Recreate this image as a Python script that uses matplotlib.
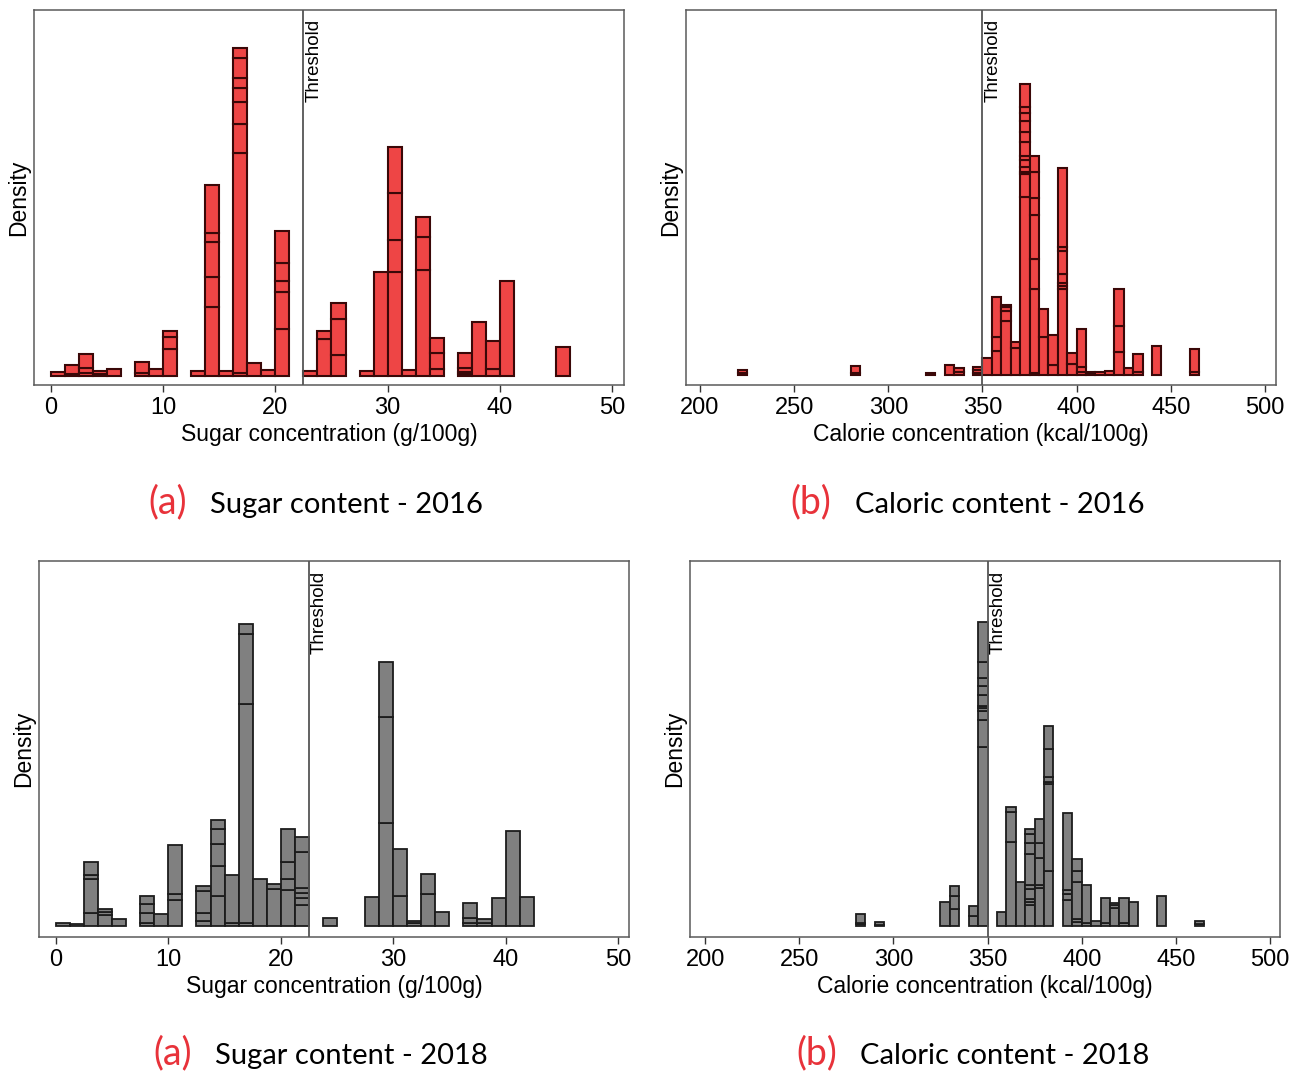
import matplotlib
matplotlib.use("Agg")
import matplotlib.pyplot as plt
from matplotlib.transforms import offset_copy

# ---------------- data ----------------
THRESH_SUGAR = 22.5
THRESH_CAL = 350
SUGAR_BIN = 1.25
CAL_BIN = 5

# Sugar 2016: bin left edges and cumulative stacked segment tops (relative density)
sugar16_left = [0, 1.25, 2.5, 3.75, 5.0, 7.5, 8.75, 10.0, 12.5, 13.75, 15.0, 16.25,
                17.5, 18.75, 20.0, 22.5, 23.75, 25.0, 27.5, 28.75, 30.0, 31.25,
                32.5, 33.75, 36.25, 37.5, 38.75, 40.0, 45.0]
sugar16_stacks = [[3.5], [1.5, 10.7], [2.3, 7.3, 21.7], [2, 4.3], [7],
                  [2.3, 13.3], [6.7], [26.3, 39, 44.7],
                  [4.7], [68.3, 99, 133.7, 143, 191], [4.3],
                  [2.7, 222.3, 252, 274, 287.7, 297.3, 317.3, 328],
                  [12.3], [5.7], [47, 84, 95, 112.3, 145],
                  [4.7], [36.3, 44.7], [21, 57, 72.7],
                  [5], [104], [104, 135.7, 182.3, 228.3], [5.7],
                  [105.3, 139, 158.3], [7, 22.3, 37.3],
                  [2, 4, 8, 22.7], [54], [6.7, 35], [95], [29]]

# Calories 2016
cal16_left = [220, 280, 320, 330, 335, 345, 350, 355, 360, 365, 370, 375, 380, 385,
              390, 395, 400, 405, 410, 415, 420, 425, 430, 440, 460]
cal16_stacks = [[2, 4.7], [2, 9], [1.5], [9.7], [3, 6.3], [2, 4.7, 8],
                [17], [23.3, 38, 77.3], [54, 63.3, 67.3, 69.7], [26.7, 32.3],
                [178, 200.7, 203, 208, 214.7, 218.7, 232.7, 242.7, 254, 261.3, 268, 290.7],
                [1.3, 85.7, 115.3, 159.7, 176.3, 202.7, 218.7],
                [38, 65.3], [9.7, 39.7],
                [85.3, 88.7, 92, 100.7, 124, 128, 206.7],
                [10.3, 21.7], [2.3, 8, 46], [1.5, 3], [3], [3.7],
                [22.7, 48.7, 85.7], [6.3], [2.7, 20.3], [29], [2.5, 25.3]]

# Sugar 2018
sugar18_left = [0, 1.25, 2.5, 3.75, 5.0, 7.5, 8.75, 10.0, 12.5, 13.75, 15.0, 16.25,
                17.5, 18.75, 20.0, 21.25, 23.75, 27.5, 28.75, 30.0, 31.25, 32.5,
                33.75, 36.25, 37.5, 38.75, 40.0, 41.25]
sugar18_stacks = [[3.3], [1.7], [12.7, 47.3, 50.7, 63.7], [10.7, 14, 16.7], [6.7],
                  [2.7, 12.7, 22, 30.3], [12], [26, 31.7, 81],
                  [5.3, 13.3, 34.7, 40.3], [30, 60, 81.7, 97.3, 106], [2.7, 50.7],
                  [2.7, 222, 292, 301.7], [47], [37.3, 41.7],
                  [35.7, 46.7, 64.3, 97.3], [21, 27.7, 32.7, 37.7, 73.7, 88.7],
                  [7.7], [28.7], [103.3, 209.3, 263.7], [30.3, 77], [2.7, 5.3],
                  [32, 51.7], [13.7], [3.3, 8.3, 22.7], [2.7, 6.7], [27.7], [95], [28.7]]

# Calories 2018
cal18_left = [280, 290, 325, 330, 340, 345, 355, 360, 365, 370, 375, 380, 390, 395,
              400, 405, 410, 415, 420, 425, 440, 460]
cal18_stacks = [[1.7, 3.3, 12], [1.5, 4.3], [24.3], [16.7, 30.3, 40.3], [10.3, 20.3],
                [179.3, 206, 215.3, 217.7, 220, 231, 240, 247.7, 264.3, 304.3],
                [13.7], [83.7, 114.3, 119.3], [44],
                [20.7, 24, 27.3, 36.7, 41, 71.7, 83.3, 92.3, 97.3],
                [38.3, 40.7, 67.7, 83.3, 106.7],
                [55, 141.7, 144, 149.3, 176.7, 200],
                [25.7, 31.7, 35.7, 113.3], [4, 6.7, 44, 55, 67.3], [2.7, 40.7], [5],
                [2.7, 27.7], [17.7, 21, 23.3], [3.3, 28.3], [24.3], [30], [2.5, 5]]

sugar_ticks = [0, 10, 20, 30, 40, 50]
cal_ticks = [200, 250, 300, 350, 400, 450, 500]

captions = [("(a)", "Sugar content - 2016"), ("(b)", "Caloric content - 2016"),
            ("(a)", "Sugar content - 2018"), ("(b)", "Caloric content - 2018")]

# ---------------- style ----------------
W, H = 1300, 1074
fig = plt.figure(figsize=(W / 100, H / 100), dpi=100)
AX_FONT = "Liberation Sans"
CAP_FONT = "Lato"
RED_FILL, RED_EDGE = "#ee4545", "#3a0808"
GRAY_FILL, GRAY_EDGE = "#808080", "#1c1c1c"
CAP_RED = "#e8323a"


def px_axes(l, t, r, b):
    return fig.add_axes([l / W, 1 - b / H, (r - l) / W, (b - t) / H])


def draw_panel(ax, lefts, stacks, width, fill, edge, lw, xlim, ylim, ticks,
               thresh, xlabel):
    for x, cum in zip(lefts, stacks):
        prev = 0
        for top in cum:
            ax.bar(x, top - prev, width=width, bottom=prev, align="edge",
                   color=fill, edgecolor=edge, linewidth=lw, zorder=2)
            prev = top
    ax.set_xlim(*xlim)
    ax.set_ylim(*ylim)
    ax.set_xticks(ticks)
    ax.set_xticklabels([str(t) for t in ticks], fontsize=17, family=AX_FONT)
    ax.set_yticks([])
    ax.tick_params(axis="x", direction="out", length=5, width=1.0,
                   color="#333333", pad=4)
    for s in ax.spines.values():
        s.set_color("#5a5a5a")
        s.set_linewidth(1.1)
    ax.axvline(thresh, color="#555555", linewidth=1.3, zorder=3)
    tr = offset_copy(ax.get_xaxis_transform(), fig=fig, x=2, y=0, units="dots")
    ax.text(thresh, 0.975, "Threshold", transform=tr,
            rotation=90, ha="left", va="top", fontsize=13.5, family=AX_FONT)
    ax.set_xlabel(xlabel, fontsize=16.5, family=AX_FONT, labelpad=2.5)
    ax.text(-0.026, 0.5, "Density", transform=ax.transAxes, rotation=90,
            ha="center", va="center", fontsize=16.5, family=AX_FONT)


axA = px_axes(34, 10, 624, 385)
draw_panel(axA, sugar16_left, sugar16_stacks, SUGAR_BIN, RED_FILL, RED_EDGE, 1.5,
           (-1.515, 51.07), (-9.3, 365.7), sugar_ticks, THRESH_SUGAR,
           "Sugar concentration (g/100g)")
axB = px_axes(686, 10, 1276, 385)
draw_panel(axB, cal16_left, cal16_stacks, CAL_BIN, RED_FILL, RED_EDGE, 1.5,
           (192.57, 505.84), (-10.3, 364.7), cal_ticks, THRESH_CAL,
           "Calorie concentration (kcal/100g)")
axC = px_axes(39, 561, 629, 937)
draw_panel(axC, sugar18_left, sugar18_stacks, SUGAR_BIN, GRAY_FILL, GRAY_EDGE, 1.3,
           (-1.51, 50.98), (-11, 365), sugar_ticks, THRESH_SUGAR,
           "Sugar concentration (g/100g)")
axD = px_axes(690, 561, 1280, 937)
draw_panel(axD, cal18_left, cal18_stacks, CAL_BIN, GRAY_FILL, GRAY_EDGE, 1.3,
           (192.0, 505.3), (-11, 365), cal_ticks, THRESH_CAL,
           "Calorie concentration (kcal/100g)")

# captions: (label x, text x, baseline y) in pixels
cap_pos = [(148, 210, 513), (790, 855, 513), (153, 215, 1064), (796, 860, 1064)]
for (lab, txt), (lx, tx, by) in zip(captions, cap_pos):
    fig.text(lx / W, 1 - by / H, lab, color=CAP_RED, fontsize=27, family=CAP_FONT,
             ha="left", va="baseline")
    fig.text(tx / W, 1 - by / H, txt, color="black", fontsize=21, family=CAP_FONT,
             ha="left", va="baseline")

fig.savefig("out.png", dpi=100)
